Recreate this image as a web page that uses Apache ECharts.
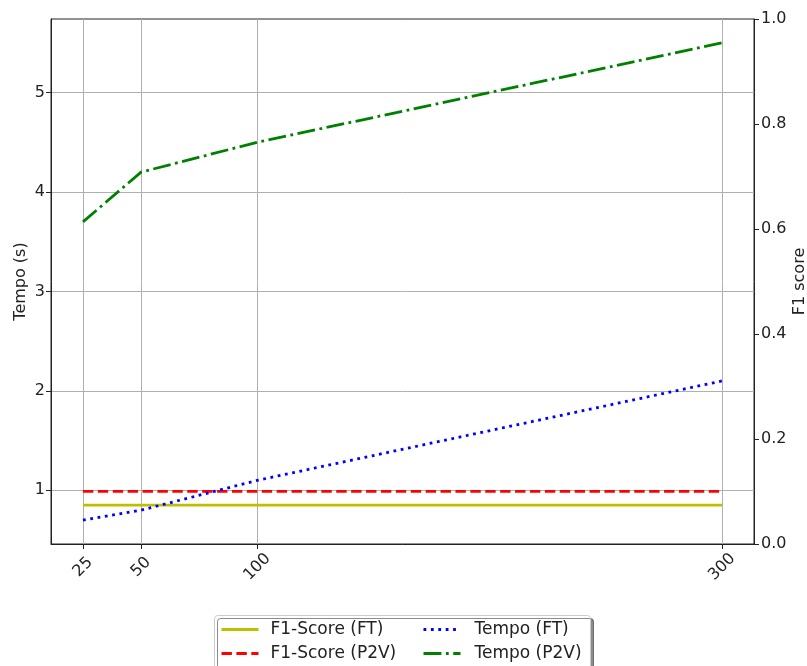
<!DOCTYPE html>
<html><head><meta charset="utf-8">
<script src="https://cdn.jsdelivr.net/npm/echarts@6/dist/echarts.min.js"></script>
<style>html,body{margin:0;padding:0;background:#fff}#c{width:807px;height:666px}</style>
</head><body><div id="c"></div>
<script>
const xValues = [25, 50, 100, 300];
const xTicks = [25, 50, 100, 300];
const leftTicks = [1, 2, 3, 4, 5];
const f1FT = [0.85, 0.85, 0.85, 0.85];
const f1P2V = [0.99, 0.99, 0.99, 0.99];
const tempoFT = [0.7, 0.8, 1.1, 2.1];
const tempoP2V = [3.7, 4.2, 4.5, 5.5];
const seriesNames = ['F1-Score (FT)', 'F1-Score (P2V)', 'Tempo (FT)', 'Tempo (P2V)'];

const pairs = arr => xValues.map((x, i) => [x, arr[i]]);
const lw = 2.8;
const font = 'DejaVu Sans';
const chart = echarts.init(document.getElementById('c'), null, {renderer: 'canvas'});
const mkSeries = (name, arr, color, type) => ({
  name, type: 'line', data: pairs(arr), yAxisIndex: 0, symbol: 'none', animation: false,
  lineStyle: {color, width: lw, type, cap: 'butt'}, itemStyle: {color}
});
const legendBase = {
  orient: 'vertical', top: 621, height: 60, padding: 0, itemWidth: 37, itemHeight: 14, itemGap: 7, z: 5,
  itemStyle: {opacity: 0}, lineStyle: {width: 3}
};
chart.setOption({
  animation: false,
  grid: {left: 51, right: 53, top: 19, bottom: 122, outerBoundsMode: 'none', containLabel: false,
    show: true, borderColor: '#222', borderWidth: 1, backgroundColor: 'transparent'},
  xAxis: {
    type: 'value', min: 11.25, max: 313.75,
    axisLine: {show: true, onZero: false, lineStyle: {color: '#222', width: 1}},
    axisTick: {show: true, length: 5, customValues: xTicks, lineStyle: {color: '#222'}},
    axisLabel: {customValues: xTicks, rotate: 45, align: 'center', verticalAlign: 'middle',
      fontSize: 16, color: '#222', fontFamily: font, margin: 23},
    splitLine: {show: true, lineStyle: {color: '#b0b0b0', width: 1}}
  },
  yAxis: [{
    type: 'value', min: 0.46, max: 5.74, position: 'left',
    name: 'Tempo (s)', nameLocation: 'middle', nameGap: 22, nameRotate: 90, nameMoveOverlap: false,
    nameTextStyle: {fontSize: 16, color: '#222', fontFamily: font},
    axisLine: {show: true, lineStyle: {color: '#222', width: 1}},
    axisTick: {show: true, length: 5, customValues: leftTicks, lineStyle: {color: '#222'}},
    axisLabel: {customValues: leftTicks, fontSize: 16, color: '#222', fontFamily: font, margin: 6},
    splitLine: {show: true, lineStyle: {color: '#b0b0b0', width: 1}}
  }, {
    type: 'value', min: 0, max: 1, interval: 0.2, position: 'right',
    name: 'F1 score', nameLocation: 'middle', nameGap: 38, nameRotate: 90, nameMoveOverlap: false,
    nameTextStyle: {fontSize: 16, color: '#222', fontFamily: font},
    axisLine: {show: true, lineStyle: {color: '#222', width: 1}},
    axisTick: {show: true, length: 5, lineStyle: {color: '#222'}},
    axisLabel: {fontSize: 16, color: '#222', fontFamily: font, margin: 7, formatter: v => v.toFixed(1)},
    splitLine: {show: false}
  }],
  graphic: [{
    type: 'rect', left: 214, top: 615, z: 0,
    shape: {width: 376, height: 62, r: 3},
    style: {fill: '#fff', stroke: '#cccccc', lineWidth: 1, shadowColor: 'rgba(0,0,0,0.45)', shadowOffsetX: 3, shadowOffsetY: 3, shadowBlur: 0}
  }],
  legend: [Object.assign({}, legendBase, {
    left: 220, data: [seriesNames[0], seriesNames[1]],
    textStyle: {fontSize: 17, color: '#222', fontFamily: font, padding: [0, 0, 0, 7]}
  }), Object.assign({}, legendBase, {
    left: 422, data: [seriesNames[2], seriesNames[3]],
    textStyle: {fontSize: 17, color: '#222', fontFamily: font, padding: [0, 0, 0, 9]}
  })],
  series: [
    mkSeries(seriesNames[0], f1FT, '#bfbf00', 'solid'),
    mkSeries(seriesNames[1], f1P2V, '#ff0000', [10.4, 4.5]),
    mkSeries(seriesNames[2], tempoFT, '#0000ff', [2.8, 4.6]),
    mkSeries(seriesNames[3], tempoP2V, '#008000', [17.9, 4.5, 2.8, 4.5])
  ]
});
</script></body></html>
